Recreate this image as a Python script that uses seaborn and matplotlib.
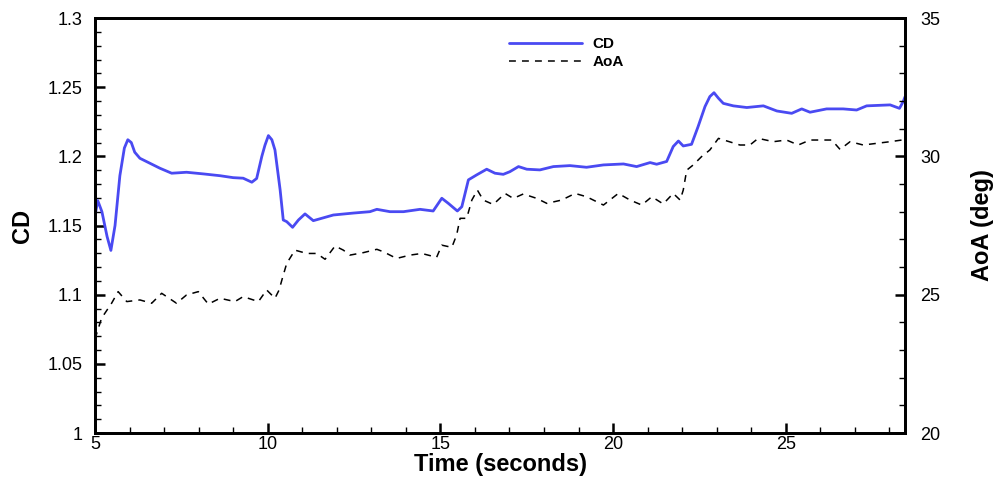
import matplotlib
matplotlib.use("Agg")
import matplotlib.pyplot as plt
from matplotlib.ticker import MultipleLocator
import seaborn as sns

# Drag coefficient history
time_cd = [5.0, 5.08, 5.2, 5.35, 5.46, 5.58, 5.72, 5.85, 5.95, 6.05, 6.15, 6.30, 6.59, 6.88,
           7.22, 7.65, 8.14, 8.62, 9.0, 9.29, 9.54, 9.68, 9.83, 9.92, 10.02, 10.12, 10.21,
           10.36, 10.45, 10.55, 10.72, 10.89, 11.08, 11.32, 11.9, 12.48, 12.96, 13.16, 13.54,
           13.93, 14.41, 14.79, 15.04, 15.23, 15.49, 15.62, 15.81, 16.05, 16.34, 16.58, 16.82,
           17.01, 17.26, 17.5, 17.88, 18.27, 18.75, 19.23, 19.72, 20.3, 20.68, 21.07, 21.26,
           21.55, 21.74, 21.89, 22.03, 22.27, 22.46, 22.66, 22.8, 22.92, 23.05, 23.19, 23.48,
           23.87, 24.35, 24.74, 25.17, 25.46, 25.7, 26.18, 26.66, 27.05, 27.34, 28.02, 28.29,
           28.40, 28.45]
cd = [1.157, 1.168, 1.160, 1.142, 1.132, 1.150, 1.186, 1.206, 1.212, 1.210, 1.203, 1.1986,
      1.195, 1.1914, 1.1878, 1.1885, 1.1873, 1.186, 1.1846, 1.1842, 1.1813, 1.184, 1.200,
      1.208, 1.215, 1.212, 1.2046, 1.1757, 1.154, 1.1528, 1.1487, 1.154, 1.1584, 1.1535,
      1.1576, 1.159, 1.160, 1.1617, 1.160, 1.160, 1.1617, 1.1605, 1.1697, 1.166, 1.1605,
      1.1636, 1.183, 1.1866, 1.1907, 1.1878, 1.187, 1.1889, 1.1926, 1.1907, 1.1902, 1.1926,
      1.1933, 1.1921, 1.1938, 1.1945, 1.1926, 1.1955, 1.1943, 1.1963, 1.2071, 1.2111, 1.2075,
      1.2087, 1.2215, 1.236, 1.2432, 1.246, 1.242, 1.2383, 1.2365, 1.2353, 1.2365, 1.2328,
      1.2311, 1.2343, 1.2319, 1.2343, 1.2343, 1.2335, 1.2365, 1.2372, 1.2347, 1.2397, 1.243]

# Angle of attack history
time_aoa = [5.0, 5.19, 5.48, 5.67, 5.92, 6.3, 6.64, 6.93, 7.36, 7.65, 7.99, 8.28, 8.62, 9.05,
            9.29, 9.73, 9.97, 10.21, 10.33, 10.41, 10.55, 10.79, 11.13, 11.42, 11.66, 11.95,
            12.19, 12.38, 12.77, 13.16, 13.35, 13.73, 14.12, 14.46, 14.89, 15.04, 15.33, 15.47,
            15.57, 15.76, 15.91, 16.07, 16.24, 16.53, 16.87, 17.11, 17.4, 17.79, 18.08, 18.51,
            18.9, 19.23, 19.72, 20.15, 20.49, 20.83, 21.12, 21.45, 21.74, 21.94, 22.03, 22.13,
            22.32, 22.56, 22.8, 23.05, 23.31, 23.67, 23.96, 24.2, 24.64, 25.02, 25.36, 25.7,
            26.04, 26.33, 26.57, 26.86, 27.24, 27.63, 28.02, 28.36, 28.45]
aoa = [23.4, 24.15, 24.69, 25.11, 24.75, 24.81, 24.69, 25.05, 24.69, 24.99, 25.11, 24.66,
       24.87, 24.75, 24.93, 24.75, 25.17, 24.87, 25.17, 25.53, 26.13, 26.61, 26.49, 26.49,
       26.28, 26.76, 26.61, 26.43, 26.52, 26.64, 26.55, 26.31, 26.43, 26.49, 26.35, 26.79,
       26.71, 27.16, 27.76, 27.76, 28.42, 28.78, 28.42, 28.26, 28.66, 28.48, 28.64, 28.48,
       28.3, 28.42, 28.66, 28.54, 28.24, 28.66, 28.42, 28.24, 28.54, 28.28, 28.66, 28.42,
       28.78, 29.5, 29.69, 29.99, 30.23, 30.65, 30.55, 30.41, 30.41, 30.65, 30.53, 30.59,
       30.41, 30.59, 30.59, 30.59, 30.25, 30.53, 30.41, 30.47, 30.53, 30.59, 30.6]

sns.set_theme(style="white")
plt.rcParams["font.family"] = ["Liberation Sans", "DejaVu Sans"]
plt.rcParams["text.color"] = "black"
plt.rcParams["axes.labelcolor"] = "black"

fig = plt.figure(figsize=(10, 4.83), dpi=100)
ax = fig.add_axes([0.095, 0.1035, 0.81, 0.8592])
ax2 = ax.twinx()

sns.lineplot(x=time_cd, y=cd, ax=ax, color="#4a4af2", linewidth=2.0, label="CD", legend=False)
sns.lineplot(x=time_aoa, y=aoa, ax=ax2, color="black", linewidth=1.1, label="AoA", legend=False)
ax2.get_lines()[0].set_linestyle((0, (4.5, 4.0)))

ax.set_xlim(5, 28.45)
ax.set_ylim(1.0, 1.3)
ax2.set_ylim(20, 35)

ax.xaxis.set_major_locator(MultipleLocator(5))
ax.xaxis.set_minor_locator(MultipleLocator(1))
ax.yaxis.set_minor_locator(MultipleLocator(0.01))
ax2.yaxis.set_major_locator(MultipleLocator(5))
ax2.yaxis.set_minor_locator(MultipleLocator(1))
ax.set_yticks([1, 1.05, 1.1, 1.15, 1.2, 1.25, 1.3])
ax.set_yticklabels(["1", "1.05", "1.1", "1.15", "1.2", "1.25", "1.3"])

for a in (ax, ax2):
    for s in a.spines.values():
        s.set_linewidth(2.0)
        s.set_color("black")
    a.tick_params(which="major", direction="in", length=7, width=1.8, colors="black",
                  labelsize=13)
    a.tick_params(which="minor", direction="in", length=4, width=1.0, colors="black")

ax.tick_params(axis="x", which="both", bottom=True, top=False, pad=2)
ax.tick_params(axis="y", which="both", left=True, right=False, pad=9)
ax2.tick_params(axis="y", which="both", right=True, left=False, pad=11)

ax.set_xlabel("Time (seconds)", fontsize=17, fontweight="bold", labelpad=0)
ax.set_ylabel("CD", fontsize=17, fontweight="bold", labelpad=10)
ax2.set_ylabel("AoA (deg)", fontsize=17, fontweight="bold", labelpad=22)

handles = ax.get_lines() + ax2.get_lines()
leg = ax.legend(handles, ["CD", "AoA"], loc="upper left", bbox_to_anchor=(0.498, 0.945),
                bbox_transform=fig.transFigure, frameon=False, prop={"size": 11, "weight": "bold"},
                handlelength=4.8, handletextpad=0.7, labelspacing=0.25, borderpad=0.2)

fig.savefig("out.png", dpi=100)
